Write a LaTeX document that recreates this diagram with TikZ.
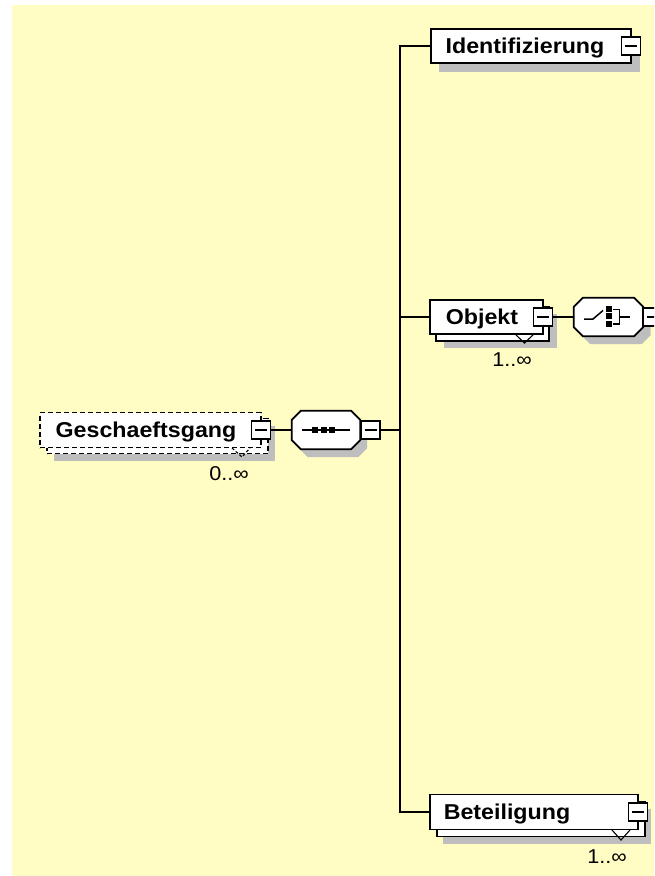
\documentclass[tikz,border=0pt]{standalone}
\usepackage{fontspec}
\setmainfont{Liberation Sans}[FakeStretch=1.08]
\definecolor{bgyellow}{RGB}{255,252,196}
\definecolor{shd}{RGB}{190,190,190}
\tikzset{
  conn/.style={line width=1.6pt, draw=black},
  elembox/.style={draw=black, fill=white, line width=1.8pt, rectangle, inner sep=0pt},
  dashbox/.style={elembox, line width=1.6pt, dash pattern=on 5pt off 3pt},
  shadowbox/.style={fill=shd, draw=none, rectangle, inner sep=0pt},
  btn/.style={draw=black, fill=white, line width=1.5pt, rectangle, minimum width=19pt,
    minimum height=18pt, inner sep=0pt,
    path picture={\draw[line width=1.5pt] ([xshift=3.5pt]path picture bounding box.west) -- ([xshift=-3.5pt]path picture bounding box.east);}},
  octnode/.style={rectangle, draw=none, minimum width=68pt, minimum height=38pt, inner sep=0pt},
  octline/.style={draw=black, fill=white, line width=1.8pt},
  octfill/.style={fill=shd, draw=none},
  ename/.style={font=\bfseries\fontsize{21.5}{24}\selectfont, inner sep=0pt, anchor=base},
  occ/.style={font=\fontsize{20}{24}\selectfont, inner sep=0pt},
  chev/.style={line width=1.1pt, draw=black},
  sq/.style={fill=black, draw=none, rectangle, minimum size=6pt, inner sep=0pt},
  icon/.style={line width=1.5pt, draw=black},
}
% octagon outline round a named node: #1 node, #2 path style
\newcommand\octagonpath[2]{%
  \path[#2] ([xshift=9pt]#1.north west) -- ([xshift=-9pt]#1.north east)
    -- ([yshift=-9pt]#1.north east) -- ([yshift=9pt]#1.south east)
    -- ([xshift=-9pt]#1.south east) -- ([xshift=9pt]#1.south west)
    -- ([yshift=9pt]#1.south west) -- ([yshift=-9pt]#1.north west) -- cycle;}
\begin{document}
\begin{tikzpicture}[x=1pt, y=-1pt]
\useasboundingbox (0,0) rectangle (654,876);
\clip (0,0) rectangle (654,876);
\fill[white] (0,0) rectangle (654,876);
\fill[bgyellow] (12,5) rectangle (654,876);

% ---------- Geschaeftsgang (optional, repeated) ----------
\node[shadowbox, minimum width=221pt, minimum height=35pt] (gesS) at (164.5,443) {};
\node[dashbox, minimum width=221pt, minimum height=35pt] (gesB) at (157.5,436) {};
\node[dashbox, minimum width=221pt, minimum height=35pt] (ges) at (150.5,430) {};
\node[ename] (gesT) at (146,437.5) {Geschaeftsgang};
\draw[chev, dash pattern=on 3pt off 2pt] (232,448) -- (242,457) -- (250,448);
\node[btn] (gesBtn) at (261,430) {};
\node[occ] (gesO) at (229,474) {0..∞};

% ---------- sequence compositor ----------
\node[octnode] (seqS) at (333,438) {};
\octagonpath{seqS}{octfill}
\node[octnode] (seq) at (326,430) {};
\octagonpath{seq}{octline}
\draw[icon] ([xshift=10pt]seq.west) -- ([xshift=-10pt]seq.east);
\node[sq] (seq1) at (315,430) {};
\node[sq] (seq2) at (323.5,430) {};
\node[sq] (seq3) at (332,430) {};
\node[btn] (seqBtn) at (370.5,430) {};

% ---------- Identifizierung ----------
\node[shadowbox, minimum width=201pt, minimum height=34pt] (idS) at (539.5,55) {};
\node[elembox, minimum width=200pt, minimum height=34pt] (ident) at (531,46) {};
\node[ename] (identT) at (525,53.5) {Identifizierung};
\node[btn] (identBtn) at (631,46) {};

% ---------- Objekt ----------
\node[shadowbox, minimum width=113pt, minimum height=34pt] (objS) at (500.5,331) {};
\node[elembox, minimum width=113pt, minimum height=34pt] (objB) at (492.5,324) {};
\node[elembox, minimum width=113pt, minimum height=34pt] (obj) at (486.5,317) {};
\node[ename] (objT) at (482,324.5) {Objekt};
\draw[chev] (515,334) -- (524.5,343) -- (534,334);
\node[btn] (objBtn) at (543,317) {};
\node[occ] (objO) at (512,360) {1..∞};

% ---------- choice compositor ----------
\node[octnode, minimum width=69pt] (choS) at (616,325) {};
\octagonpath{choS}{octfill}
\node[octnode, minimum width=69pt] (cho) at (608.5,317) {};
\octagonpath{cho}{octline}
\draw[icon] (584,319) -- (593,319) -- (603,310.5);
\node[sq] (cho1) at (609,308.5) {};
\node[sq] (cho2) at (609,316) {};
\node[sq] (cho3) at (609,323.5) {};
\draw[icon] (613,309.5) -- (619.5,309.5) -- (619.5,324) -- (613,324);
\draw[icon] (619.5,316.8) -- (630,316.8);
\node[btn] (choBtn) at (652.5,317) {};

% ---------- Beteiligung ----------
\node[shadowbox, minimum width=208pt, minimum height=35pt] (betS) at (547,826) {};
\node[elembox, minimum width=208pt, minimum height=35pt] (betB) at (541,819) {};
\node[elembox, minimum width=208pt, minimum height=35pt] (bet) at (534,812) {};
\node[ename] (betT) at (507,819.5) {Beteiligung};
\draw[chev] (612,830) -- (621,840) -- (630,830);
\node[btn] (betBtn) at (638,812) {};
\node[occ] (betO) at (607,857) {1..∞};

% ---------- connectors ----------
\coordinate (trunk) at (400,430);
\draw[conn] (gesBtn.east) -- (seq.west);
\draw[conn] (seqBtn.east) -- (trunk);
\draw[conn] (ident.west) -| (trunk) |- (bet.west);
\draw[conn] (trunk |- obj.west) -- (obj.west);
\draw[conn] (objBtn.east) -- (cho.west);
\end{tikzpicture}
\end{document}
